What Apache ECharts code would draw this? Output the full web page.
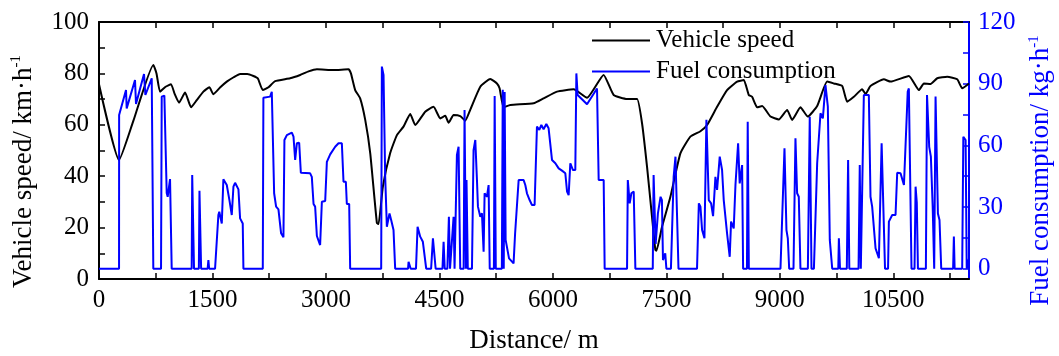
<!DOCTYPE html>
<html>
<head>
<meta charset="utf-8">
<script src="https://cdn.jsdelivr.net/npm/echarts@6/dist/echarts.min.js"></script>
<style>
html, body { margin: 0; padding: 0; background: #fff; }
#chart { width: 1059px; height: 356px; }
</style>
</head>
<body>
<div id="chart"></div>
<script>
// axis ticks / labels
var distTicks = [0, 750, 1500, 2250, 3000, 3750, 4500, 5250, 6000, 6750, 7500, 8250, 9000, 9750, 10500, 11250];
var distLabels = [0, 1500, 3000, 4500, 6000, 7500, 9000, 10500];
var speedTicks = [0, 10, 20, 30, 40, 50, 60, 70, 80, 90, 100];
var speedLabels = [0, 20, 40, 60, 80, 100];
var fuelTicks = [0, 15, 30, 45, 60, 75, 90, 105, 120];
var fuelLabels = [0, 30, 60, 90, 120];

// vehicle speed, km/h
var speedDist = [0, 265, 454, 718, 760, 807, 880, 952, 1000, 1058, 1138, 1217, 1292, 1380, 1459, 1512, 1600, 1689, 1780, 1865,
  1960, 2041, 2100, 2165, 2240, 2328, 2526, 2659, 2770, 2880, 3100, 3298, 3330, 3386, 3452, 3519, 3585, 3673, 3695, 3752,
  3849, 3938, 4025, 4114, 4180, 4312, 4422, 4511, 4577, 4621, 4687, 4775, 4841, 4907, 5040, 5172, 5260, 5295, 5348, 5437,
  5745, 5877, 6054, 6274, 6451, 6670, 6803, 6980, 7112, 7178, 7244, 7310, 7354, 7368, 7443, 7553, 7685, 7817, 7950, 8038,
  8170, 8302, 8435, 8523, 8589, 8633, 8700, 8766, 8876, 8986, 9096, 9162, 9272, 9369, 9493, 9625, 9713, 9824, 9890, 9978,
  10088, 10132, 10198, 10374, 10463, 10705, 10838, 10904, 10992, 11080, 11212, 11344, 11410, 11500];
var speedVal = [75.8, 46.3, 61.5, 83.3, 80, 72.9, 74.8, 75.8, 72, 68.6, 72.6, 66.8, 69.6, 72.9, 74.6, 71.9, 74.5, 76.8, 78.5, 79.8,
  79.8, 79, 78, 73.5, 74.6, 77, 78.1, 79.4, 80.8, 81.6, 81.3, 81.6, 80, 73.5, 70.3, 61.9, 49, 21.8, 21.4, 35.9,
  49, 56, 59.3, 64.2, 59.9, 65.1, 67, 62.5, 63.5, 60.8, 63.8, 63.4, 61.6, 65.8, 74.8, 77.8, 76.1, 74.2, 66.8, 67.7,
  68.4, 70.3, 72.9, 73.8, 70.5, 79.4, 71.6, 70, 70, 60.6, 43.7, 24.2, 11.3, 11, 20.4, 32, 48.9, 55.4, 57.5, 59.9,
  67, 73.5, 76.8, 77.4, 71.6, 70.9, 66.8, 67.3, 63.2, 62.1, 65.8, 61.9, 66.8, 63.2, 67.3, 76.8, 76.1, 75.1, 69, 70.9,
  73.8, 72, 75.1, 77.7, 76.8, 79, 73.5, 76.1, 75.9, 78.1, 78.7, 77.7, 74.2, 76.1];

// fuel consumption, kg/h
var fuelDist = [0, 265, 266, 357, 366, 476, 489, 595, 613, 697, 718, 820, 829, 864, 895, 908, 939, 952, 961, 1225,
  1232, 1250, 1256, 1320, 1328, 1340, 1350, 1436, 1446, 1456, 1534, 1578, 1590, 1623, 1644, 1689, 1724, 1755, 1777, 1799,
  1843, 1865, 1900, 1909, 2165, 2173, 2262, 2284, 2315, 2341, 2372, 2394, 2407, 2438, 2451, 2483, 2549, 2571, 2593, 2615,
  2646, 2668, 2791, 2813, 2836, 2857, 2880, 2923, 2946, 2990, 3012, 3056, 3122, 3166, 3210, 3232, 3263, 3276, 3307, 3320,
  3730, 3739, 3761, 3783, 3805, 3840, 3862, 3893, 3915, 4085, 4092, 4114, 4120, 4190, 4211, 4246, 4281, 4325, 4390, 4414,
  4435, 4450, 4540, 4555, 4570, 4605, 4625, 4640, 4665, 4687, 4700, 4720, 4731, 4753, 4775, 4820, 4832, 4850, 4858, 4875,
  4930, 4951, 4974, 4996, 5009, 5040, 5062, 5084, 5097, 5128, 5150, 5165, 5220, 5230, 5245, 5325, 5337, 5350, 5362, 5375,
  5420, 5480, 5500, 5547, 5613, 5635, 5657, 5692, 5723, 5758, 5789, 5820, 5847, 5877, 5913, 5943, 5966, 5988, 6032, 6076,
  6120, 6164, 6187, 6208, 6230, 6265, 6296, 6310, 6327, 6451, 6583, 6605, 6671, 6684, 6980, 6990, 7015, 7037, 7068, 7090,
  7320, 7331, 7358, 7388, 7423, 7441, 7455, 7485, 7500, 7560, 7596, 7620, 7640, 7660, 7905, 7929, 7950, 7972, 8003, 8029,
  8060, 8091, 8117, 8148, 8170, 8205, 8236, 8258, 8302, 8337, 8355, 8390, 8413, 8448, 8469, 8501, 8514, 8565, 8575, 8590,
  9008, 9061, 9087, 9105, 9123, 9180, 9206, 9228, 9250, 9272, 9370, 9395, 9418, 9450, 9493, 9515, 9537, 9568, 9603, 9634,
  9660, 9692, 9772, 9780, 9795, 9885, 9902, 9918, 10040, 10056, 10070, 10095, 10110, 10176, 10198, 10220, 10265, 10309, 10345, 10366,
  10390, 10430, 10441, 10485, 10529, 10551, 10595, 10640, 10661, 10690, 10705, 10740, 10780, 10794, 10810, 10825, 10930, 10945, 10960, 10974,
  10996, 11020, 11040, 11050, 11058, 11089, 11110, 11133, 11290, 11300, 11310, 11410, 11425, 11455, 11470, 11490, 11500];
var fuelVal = [0, 0, 74.8, 86.9, 78, 91.8, 80.1, 94.7, 84.5, 92.6, 0, 0, 83.7, 84.2, 36.8, 35, 43.6, 43, 0, 0,
  45.6, 45.6, 0, 0, 37.9, 37.9, 0, 0, 4.2, 0, 0, 26.1, 27.7, 22, 43.5, 40.7, 33.4, 26.1, 39.9, 41.8,
  38.6, 24.5, 22, 0, 0, 83.2, 83.7, 86.1, 36.7, 30.2, 28.9, 28.6, 17.2, 15.3, 62.6, 65, 66.2, 64.2, 52.9, 61,
  61.3, 46.7, 46.4, 44.7, 31.5, 30.2, 15.9, 11.5, 32.6, 32.9, 52, 55.6, 59.3, 61, 61, 42.3, 42.3, 31.5, 31.5, 0,
  0, 98.3, 94.2, 44.7, 20.4, 26.9, 23.7, 18.8, 0, 0, 3.4, 3.4, 0, 0, 20.4, 15.6, 13.1, 0, 0, 14.8,
  15.6, 0, 0, 13.1, 0, 0, 25.3, 0, 0, 25.3, 0, 0, 55.3, 59.3, 0, 0, 77.2, 0, 43.1, 0,
  0, 57.7, 62.6, 43.1, 30.2, 25.3, 27, 8.3, 36.7, 35, 40.7, 0, 0, 84, 0, 0, 87, 0, 86, 14,
  5, 2.6, 17, 43.1, 43.1, 40.7, 36.7, 33.4, 31, 31, 69.1, 67.5, 69.9, 67.8, 70.4, 68.3, 67.5, 52.9, 51.3, 48.8,
  47.7, 46.4, 37.5, 35.8, 51.3, 48, 48, 95, 84.5, 80, 87.7, 43.1, 43.1, 0, 0, 43.1, 31.8, 36.7, 37.5, 0,
  0, 45.6, 12, 26.9, 35, 33.4, 4.2, 7.5, 0, 0, 44.7, 54.5, 27, 0, 0, 31.8, 30.2, 18.8, 14.8, 72.4,
  33.4, 31.8, 25.6, 44.7, 38.3, 54.5, 48, 33.4, 17.2, 5.8, 22.9, 19.6, 40.7, 61, 41.5, 50.4, 0, 0, 71.5, 0,
  0, 58.6, 18.8, 14.8, 0, 0, 63.4, 36.7, 35, 0, 0, 73.9, 0, 0, 51.3, 51.3, 75.6, 73.1, 89.3, 78.8,
  14, 0, 0, 14.8, 0, 0, 52.9, 0, 0, 50.4, 0, 0, 84.5, 84.5, 35, 30.2, 9.9, 5.1, 61, 61,
  0, 0, 22.9, 26.1, 26.1, 46.7, 46.4, 40.7, 40.7, 86.1, 87.7, 0, 0, 39.9, 32, 0, 0, 84.5, 85.3, 59.3,
  54.5, 30.2, 0, 0, 83.7, 26.9, 23.7, 0, 0, 15.6, 0, 0, 64.2, 62.6, 0, 0, 5];

var serif = 'Liberation Serif';
var blue = '#0000ff';

function pairs(xs, ys) {
  return xs.map(function (x, i) { return [x, ys[i]]; });
}
function plain(v) { return String(v); }

var chart = echarts.init(document.getElementById('chart'));
chart.setOption({
  animation: false,
  backgroundColor: '#fff',
  grid: { left: 99, right: 90, top: 22, bottom: 77, containLabel: false, outerBoundsMode: 'none' },
  legend: {
    orient: 'vertical',
    left: 592,
    top: 28,
    padding: 0,
    itemWidth: 58,
    itemHeight: 2,
    itemGap: 6,
    textStyle: { fontFamily: serif, fontSize: 25, color: '#000', lineHeight: 25, padding: [0, 0, 0, 1] },
    data: [{ name: 'Vehicle speed', icon: 'rect' }, { name: 'Fuel consumption', icon: 'rect' }]
  },
  xAxis: [{
    type: 'value',
    min: 0,
    max: 11500,
    name: 'Distance/ m',
    nameLocation: 'middle',
    nameGap: 48,
    nameTextStyle: { fontFamily: serif, fontSize: 27, color: '#000' },
    axisLine: { onZero: false, lineStyle: { color: '#000', width: 2 } },
    axisTick: { inside: true, length: 6, lineStyle: { color: '#000', width: 1.5 }, customValues: distTicks },
    axisLabel: { fontFamily: serif, fontSize: 25, color: '#000', margin: 9, customValues: distLabels, formatter: plain },
    splitLine: { show: false }
  }, {
    type: 'value',
    position: 'top',
    min: 0,
    max: 11500,
    axisLine: { onZero: false, lineStyle: { color: '#000', width: 2 } },
    axisTick: { inside: true, length: 6, lineStyle: { color: '#000', width: 1.5 }, customValues: distTicks },
    axisLabel: { show: false },
    splitLine: { show: false }
  }],
  yAxis: [{
    type: 'value',
    min: 0,
    max: 100,
    name: '{a|Vehicle speed/ km·h}{s|-1}',
    nameLocation: 'middle',
    nameGap: 60,
    nameTextStyle: {
      fontFamily: serif, fontSize: 27, color: '#000', padding: [0, 42, 0, 0],
      rich: {
        a: { fontFamily: serif, fontSize: 27, color: '#000', lineHeight: 30 },
        s: { fontFamily: serif, fontSize: 15, color: '#000', verticalAlign: 'top', lineHeight: 30 }
      }
    },
    axisLine: { show: true, onZero: false, lineStyle: { color: '#000', width: 2 } },
    axisTick: { show: true, inside: true, length: 6, lineStyle: { color: '#000', width: 1.5 }, customValues: speedTicks },
    axisLabel: { fontFamily: serif, fontSize: 25, color: '#000', margin: 10, customValues: speedLabels, formatter: plain },
    splitLine: { show: false }
  }, {
    type: 'value',
    position: 'right',
    min: -5,
    max: 120,
    name: '{a|Fuel consumption/ kg·h}{s|-1}',
    nameLocation: 'middle',
    nameGap: 56,
    nameTextStyle: {
      fontFamily: serif, fontSize: 27, color: blue, padding: [0, 40, 0, 0],
      rich: {
        a: { fontFamily: serif, fontSize: 27, color: blue, lineHeight: 30 },
        s: { fontFamily: serif, fontSize: 15, color: blue, verticalAlign: 'top', lineHeight: 30 }
      }
    },
    axisLine: { show: true, onZero: false, lineStyle: { color: blue, width: 2 } },
    axisTick: { show: true, inside: true, length: 6, lineStyle: { color: blue, width: 1.5 }, customValues: fuelTicks },
    axisLabel: { fontFamily: serif, fontSize: 25, color: blue, margin: 9, customValues: fuelLabels, formatter: plain },
    splitLine: { show: false }
  }],
  series: [{
    name: 'Vehicle speed',
    type: 'line',
    xAxisIndex: 0,
    yAxisIndex: 0,
    symbol: 'none',
    smooth: 0.15,
    color: '#000',
    lineStyle: { color: '#000', width: 2 },
    data: pairs(speedDist, speedVal)
  }, {
    name: 'Fuel consumption',
    type: 'line',
    xAxisIndex: 0,
    yAxisIndex: 1,
    symbol: 'none',
    color: blue,
    lineStyle: { color: blue, width: 2 },
    data: pairs(fuelDist, fuelVal)
  }]
});
</script>
</body>
</html>
